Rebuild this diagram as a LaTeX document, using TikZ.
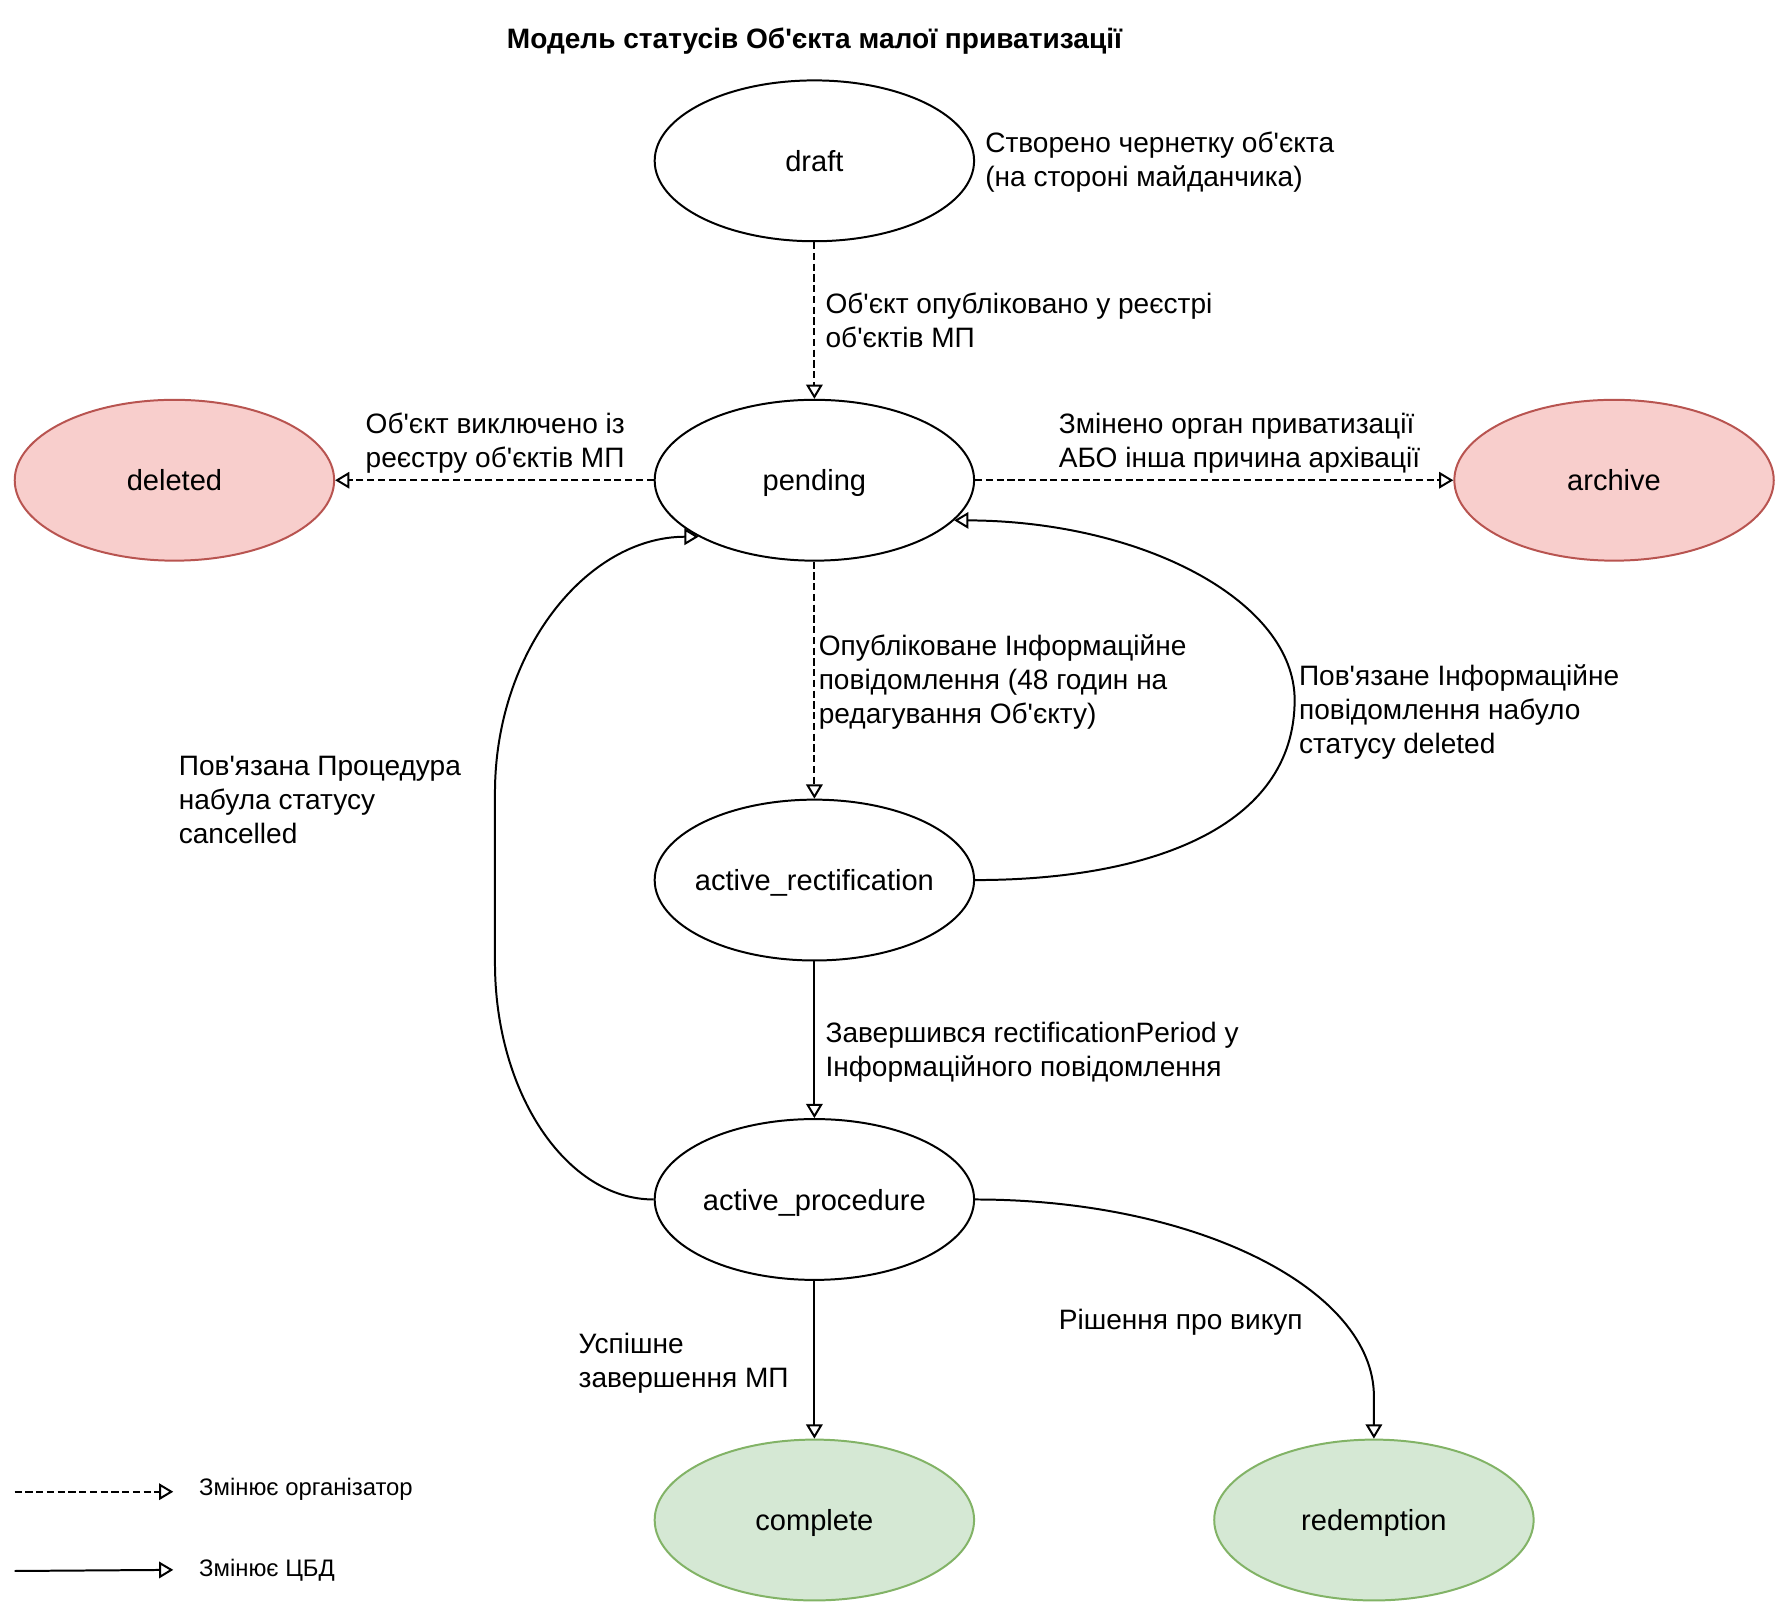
\documentclass[tikz,border=0pt]{standalone}
\usepackage{fontspec}
\setmainfont{Liberation Sans}[Ligatures=TeXOff]
\usetikzlibrary{shapes.geometric,arrows.meta}
\definecolor{redfill}{HTML}{F8CECC}
\definecolor{redline}{HTML}{B85450}
\definecolor{grnfill}{HTML}{D5E8D4}
\definecolor{grnline}{HTML}{82B366}
\newcommand{\nfont}{\fontsize{7.3}{8.8}\selectfont}
\newcommand{\lfont}{\fontsize{7.05}{8.54}\selectfont}
\newcommand{\gfont}{\fontsize{6}{7.2}\selectfont}
\newcommand{\fl}{\rule{0pt}{6pt}}
\newcommand{\ctr}[1]{\makebox[0pt][c]{#1}}
\begin{document}
\begin{tikzpicture}[
  line width=0.5pt,
  state/.style={ellipse, draw=black, fill=white, minimum width=2.82cm, minimum height=1.42cm, inner sep=0pt, text depth=0pt, font=\nfont},
  redstate/.style={state, draw=redline, fill=redfill},
  grnstate/.style={state, draw=grnline, fill=grnfill},
  lbl/.style={anchor=north west, inner sep=0pt, align=left, font=\lfont},
  conn/.style={-{Triangle[open, length=1.25mm, width=1.45mm]}},
  org/.style={conn, dash pattern=on 1.8pt off 0.9pt},
  cbd/.style={conn}
]
\useasboundingbox (0,0) rectangle (15.68,-14.143);

\node[font=\lfont\bfseries] (title) at (7.19,-0.36) {Модель статусів Об'єкта малої приватизації};

\node[state] (draft) at (7.19,-1.42) {\ctr{draft}};
\node[state] (pending) at (7.19,-4.24) {\ctr{pending}};
\node[redstate] (deleted) at (1.54,-4.24) {\ctr{deleted}};
\node[redstate] (archive) at (14.25,-4.24) {\ctr{archive}};
\node[state] (ar) at (7.19,-7.77) {\ctr{active\_rectification}};
\node[state] (ap) at (7.19,-10.59) {\ctr{active\_procedure}};
\node[grnstate] (complete) at (7.19,-13.42) {\ctr{complete}};
\node[grnstate] (redemption) at (12.13,-13.42) {\ctr{redemption}};

% edges
\draw[org] (draft.south) -- (pending.north);
\draw[org] (pending.west) -- (deleted.east);
\draw[org] (pending.east) -- (archive.west);
\draw[org] (pending.south) -- (ar.north);
\draw[cbd] (ar.south) -- (ap.north);
\draw[cbd] (ap.south) -- (complete.north);
\draw[cbd] (ar.east) .. controls (10.16,-7.77) and (11.43,-7.30) .. (11.43,-6.18)
   .. controls (11.43,-5.31) and (10.09,-4.60) .. (pending.-16.5);
\draw[cbd] (ap.west) .. controls (5.00,-10.59) and (4.37,-9.65) .. (4.37,-8.50)
   -- (4.37,-7.00) .. controls (4.37,-5.75) and (5.18,-4.74) .. (pending.206.6);
\draw[cbd] (ap.east) .. controls (10.56,-10.59) and (12.13,-11.38) .. (12.13,-12.33)
   -- (redemption.north);

% labels
\node[lbl] (t0) at (8.69,-1.13) {\fl Створено чернетку об'єкта\\(на стороні майданчика)};
\node[lbl] (t1) at (7.28,-2.55) {\fl Об'єкт опубліковано у реєстрі\\об'єктів МП};
\node[lbl] (t2) at (3.22,-3.61) {\fl Об'єкт виключено із\\реєстру об'єктів МП};
\node[lbl] (t3) at (9.34,-3.61) {\fl Змінено орган приватизації\\АБО інша причина архівації};
\node[lbl] (t4) at (7.22,-5.57) {\fl Опубліковане Інформаційне\\повідомлення (48 годин на\\редагування Об'єкту)};
\node[lbl] (t5) at (11.46,-5.83) {\fl Пов'язане Інформаційне\\повідомлення набуло\\статусу deleted};
\node[lbl] (t6) at (1.57,-6.63) {\fl Пов'язана Процедура\\набула статусу\\cancelled};
\node[lbl] (t7) at (7.28,-8.98) {\fl Завершився rectificationPeriod у\\Інформаційного повідомлення};
\node[lbl] (t8) at (5.10,-11.73) {\fl Успішне\\завершення МП};
\node[lbl] (t9) at (9.34,-11.52) {\fl Рішення про викуп};

% legend
\coordinate (la) at (0.13,-13.17);
\coordinate (lb) at (1.53,-13.17);
\coordinate (lc) at (0.13,-13.87);
\coordinate (ld) at (1.53,-13.86);
\draw[org] (la) -- (lb);
\draw[cbd] (lc) -- (ld);
\node[anchor=west, inner sep=0pt, font=\gfont] (g1) at (1.75,-13.15) {Змінює організатор};
\node[anchor=west, inner sep=0pt, font=\gfont] (g2) at (1.75,-13.86) {Змінює ЦБД};
\end{tikzpicture}
\end{document}
